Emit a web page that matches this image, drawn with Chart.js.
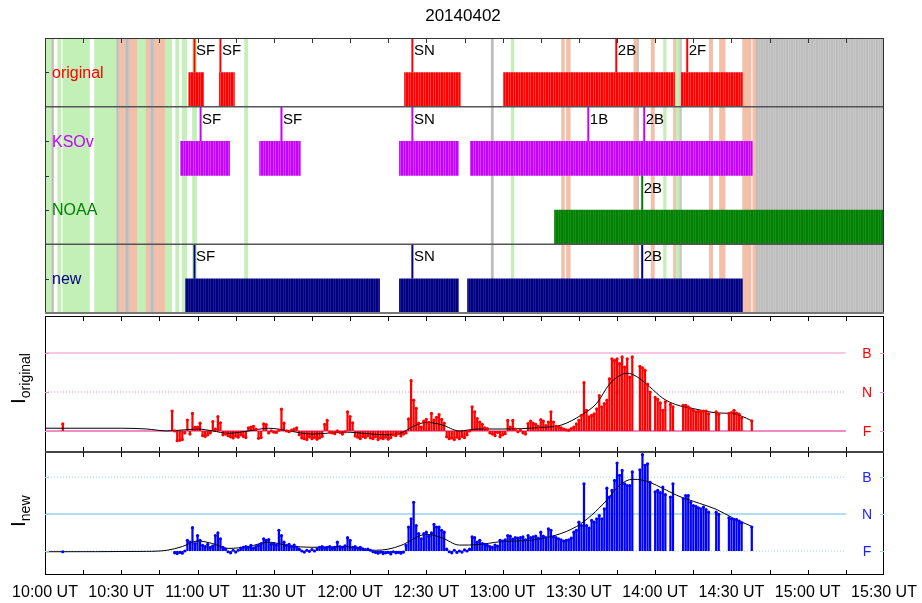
<!DOCTYPE html>
<html>
<head>
<meta charset="utf-8">
<script src="https://cdn.jsdelivr.net/npm/chart.js@4.4.1/dist/chart.umd.min.js"></script>
<style>
  html, body { margin: 0; padding: 0; background: #fff; }
  #wrap { position: relative; width: 922px; height: 603px; }
  #wrap canvas { position: absolute; left: 0; top: 0; }
</style>
</head>
<body>
<div id="wrap">
  <canvas id="top" width="922" height="603"></canvas>
  <canvas id="mid" width="922" height="603"></canvas>
  <canvas id="bot" width="922" height="603"></canvas>
</div>
<script>
// all times are minutes after 10:00 UT
const titleText = '20140402';
const tickMinutes = [0, 30, 60, 90, 120, 150, 180, 210, 240, 270, 300, 330];
const tickLabels = ['10:00 UT', '10:30 UT', '11:00 UT', '11:30 UT', '12:00 UT', '12:30 UT',
  '13:00 UT', '13:30 UT', '14:00 UT', '14:30 UT', '15:00 UT', '15:30 UT'];

const rows = ['original', 'KSOv', 'NOAA', 'new'];
const rowColors = ['#ff0000', '#c800ff', '#008000', '#000080'];

// event intervals [start, end]
const originalSpans = [[56.5, 62.4], [68.6, 74.5], [141.4, 163.4], [180.3, 247.6], [250.3, 274.3]];
const ksovSpans = [[53.3, 72.6], [84.4, 100.5], [139.4, 162.6], [167.3, 278.2]];
const noaaSpans = [[200.4, 330]];
const newSpans = [[55.3, 131.6], [139.4, 162.6], [166.2, 274.3]];

// event markers [time, class]
const originalMarks = [[58.8, 'SF'], [69.0, 'SF'], [144.5, 'SN'], [224.7, '2B'], [252.6, '2F']];
const ksovMarks = [[61.2, 'SF'], [93.0, 'SF'], [144.5, 'SN'], [213.7, '1B'], [235.7, '2B']];
const noaaMarks = [[234.9, '2B']];
const newMarks = [[58.8, 'SF'], [144.5, 'SN'], [234.9, '2B']];

// background quality stripes
const greenStripes = [[0, 2.5], [5, 6.2], [7, 17.5], [19.5, 28], [36.4, 39.5], [47.4, 49.8], [51.4, 52.6],
  [54, 55.7], [58, 59.6], [78.5, 79.7], [183.4, 184.4], [243.3, 244.3], [248.2, 249.5]];
const salmonStripes = [[29.3, 31.3], [33.3, 36.4], [39.5, 41.1], [43.1, 47.4], [203.2, 204.3], [205.1, 206.6],
  [231.6, 232.9], [238.4, 239.7], [247.2, 248.2], [261.3, 262.6], [265.3, 267.5], [274.4, 277.7], [278.4, 279.4]];
const grayStripes = [[2.5, 3.4], [28, 29.3], [31.3, 33.3], [41.1, 43.1], [175.5, 176.4], [232.9, 233.5],
  [249.5, 250.3], [279.4, 330]];

// intensity levels
const levelNames = ['F', 'N', 'B'];
const levelValues = [1, 2, 3];
const levelEnd = 315;

// one value per minute from seriesStart
const seriesStart = 50;
const earlyPoint = 7;
const origEarly = 1.18;
const newEarly = 0.98;
const origValues = [
  1.51, 1.00, 0.75, 0.76, 0.78, 0.95, 1.28, 0.92, 1.45, 1.09,
  1.10, 1.20, 0.88, 0.86, 0.90, 0.95, 1.24, 1.05, 1.37, 1.21,
  0.90, 0.92, 0.88, 0.85, 0.82, 0.87, 0.84, 0.90, 0.86, 0.83,
  1.08, 1.10, 1.12, 1.05, 0.81, 0.83, 1.18, 1.16, 0.95, 1.00,
  0.97, 0.96, 1.02, 1.56, 1.20, 1.00, 0.98, 1.02, 1.05, 1.08,
  0.90, 0.82, 0.80, 0.78, 0.85, 0.80, 0.83, 0.79, 0.82, 0.86,
  1.17, 1.27, 0.97, 0.95, 0.93, 1.00, 0.96, 0.92, 0.98, 1.49,
  1.37, 1.21, 0.87, 0.84, 0.80, 0.86, 0.83, 0.88, 0.82, 0.80,
  0.85, 0.78, 0.82, 0.80, 0.84, 0.79, 0.83, 0.90, 0.88, 0.93,
  0.87, 0.92, 0.95, 1.31, 2.29, 1.79, 1.58, 1.20, 1.10, 1.25,
  1.30, 1.22, 1.45, 1.28, 1.35, 1.42, 1.30, 1.20, 0.85, 0.80,
  0.82, 0.78, 0.84, 0.80, 0.86, 0.83, 0.90, 1.00, 1.62, 1.49,
  1.32, 1.23, 1.17, 1.08, 1.06, 0.95, 0.92, 0.88, 0.96, 0.85,
  0.90, 0.93, 1.27, 1.10, 1.27, 1.05, 0.98, 1.02, 0.95, 0.92,
  1.19, 1.25, 1.20, 1.17, 1.12, 1.29, 1.25, 1.14, 1.23, 1.49,
  1.23, 1.12, 1.10, 1.08, 1.05, 1.03, 1.02, 1.06, 1.10, 1.18,
  1.27, 1.40, 2.24, 1.53, 1.36, 1.40, 1.44, 1.57, 1.91, 1.62,
  1.70, 1.79, 2.34, 2.85, 2.81, 2.85, 2.73, 2.90, 2.64, 2.85,
  2.38, 2.90, null, null, 2.66, 2.62, 2.56, 2.20, 2.00, null,
  1.86, 1.81, 1.72, 1.53, 1.75, null, 1.68, 1.62, null, null,
  null, 1.66, 1.66, 1.62, 1.57, 1.53, 1.49, 1.50, 1.49, 1.51,
  1.51, 1.44, null, null, 1.49, 1.43, null, null, null, 1.45,
  1.47, 1.53, 1.46, 1.43, 1.34, null, null, null, 1.26
];
const newValues = [
  null, 0.95, 0.93, 0.96, 0.94, 1.00, 1.29, 1.24, 1.63, 1.20,
  1.42, 1.29, 1.15, 1.12, 1.18, 1.10, 1.14, 1.42, 1.49, 1.33,
  1.10, 1.05, 0.98, 0.95, 1.02, 0.97, 1.02, 1.08, 1.10, 1.12,
  1.10, 1.15, 1.08, 1.12, 1.15, 1.20, 1.33, 1.29, 1.31, 1.18,
  1.20, 1.16, 1.56, 1.42, 1.24, 1.15, 1.18, 1.12, 1.16, 1.10,
  1.05, 1.00, 0.97, 1.02, 0.99, 1.04, 1.00, 1.06, 1.10, 1.12,
  1.08, 1.10, 1.12, 1.07, 1.10, 1.24, 1.12, 1.10, 1.14, 1.36,
  1.29, 1.10, 1.12, 1.08, 1.10, 1.06, 1.04, 1.05, 1.02, 0.98,
  0.96, 0.94, 0.97, 0.93, 0.95, 0.96, 0.92, 0.98, 0.95, 0.96,
  0.94, 0.97, 1.15, 1.65, 1.87, 2.32, 1.69, 1.47, 1.33, 1.47,
  1.51, 1.40, 1.49, 1.72, 1.65, 1.65, 1.56, 1.51, 1.05, 0.98,
  0.95, 1.02, 0.96, 1.00, 0.97, 1.03, 1.00, 1.05, 1.38, 1.36,
  1.24, 1.29, 1.20, 1.18, 1.15, 1.12, 1.10, 1.16, 1.13, 1.29,
  1.27, 1.30, 1.42, 1.40, 1.32, 1.36, 1.35, 1.36, 1.38, 1.30,
  1.42, 1.36, 1.38, 1.40, 1.34, 1.51, 1.40, 1.36, 1.60, 1.56,
  1.38, 1.36, 1.33, 1.30, 1.27, 1.29, 1.30, 1.35, 1.51, 1.56,
  1.78, 1.69, 2.82, 1.69, 1.62, 1.83, 1.78, 1.87, 1.96, 1.87,
  2.14, 2.70, 2.46, 2.64, 2.91, 3.38, 3.05, 3.18, 2.82, 2.77,
  2.77, 3.14, null, null, 3.20, 3.61, 3.32, 3.36, 2.86, null,
  2.60, 2.64, 2.58, 2.73, 2.53, null, 2.46, 2.82, null, null,
  null, 2.41, 2.50, 2.50, 2.32, 2.23, 2.21, 2.17, 2.14, 2.19,
  2.12, 2.05, null, null, 2.05, 1.99, null, null, null, 1.90,
  1.87, 1.85, 1.85, 1.81, 1.76, null, null, null, 1.65
];

// smoothed curves [time, value]
const origFit = [[0, 1.07], [30, 1.07], [40, 1.05], [48, 1.0], [55, 1.03], [60, 1.05], [66, 1.0], [72, 0.94],
  [80, 1.0], [88, 1.07], [96, 1.0], [105, 0.92], [118, 0.97], [127, 0.93], [134, 0.90], [140, 0.95],
  [145, 1.12], [150, 1.22], [156, 1.16], [163, 1.0], [170, 1.05], [180, 1.05], [195, 1.09], [203, 1.15],
  [211, 1.41], [217, 1.71], [222, 2.2], [226, 2.42], [229, 2.48], [232.6, 2.4], [237.7, 2.14], [243, 1.84],
  [248, 1.68], [256, 1.56], [265, 1.46], [270, 1.45], [274, 1.38], [278, 1.26]];
const newFit = [[0, 0.98], [40, 0.99], [48, 1.02], [54, 1.12], [60, 1.27], [66, 1.2], [72, 1.07], [80, 1.12],
  [88, 1.24], [96, 1.14], [105, 1.1], [118, 1.12], [126, 1.04], [130, 1.02], [135, 1.05], [140, 1.15],
  [150, 1.45], [156, 1.36], [163, 1.16], [170, 1.17], [179, 1.25], [192, 1.3], [201, 1.43], [209, 1.66],
  [215, 1.97], [221, 2.38], [226, 2.78], [231, 2.94], [235, 2.92], [240.5, 2.78], [248.4, 2.51],
  [257.4, 2.29], [264, 2.13], [270.4, 1.9], [278.2, 1.66]];

const fontFamily = '"Liberation Sans", Arial, Helvetica, sans-serif';
Chart.defaults.font.family = fontFamily;
Chart.defaults.animation = false;

const topCtx = document.getElementById('top').getContext('2d');
function hatch(base, light) {
  const c = document.createElement('canvas');
  c.width = 5; c.height = 2;
  const g = c.getContext('2d');
  g.fillStyle = base; g.fillRect(0, 0, 5, 2);
  g.fillStyle = light; g.fillRect(0, 0, 1, 2); g.fillRect(3, 0, 1, 2);
  return topCtx.createPattern(c, 'repeat');
}
const rowFills = [hatch('#ff0000', '#ff3a3a'), hatch('#c800ff', '#d23cff'),
  hatch('#008000', '#1a8c1a'), hatch('#000080', '#1c1c92')];
const grayFill = hatch('#bdbdbd', '#c7c7c7');

function toPoints(values) {
  const pts = [];
  values.forEach((v, i) => { if (v !== null) pts.push({ x: seriesStart + i, y: v }); });
  return pts;
}

function line(ctx, x1, y1, x2, y2) {
  ctx.beginPath(); ctx.moveTo(x1, y1); ctx.lineTo(x2, y2); ctx.stroke();
}

function timeTicks(ctx, x, yy, dir) {
  for (let m = 15; m < 330; m += 15) {
    const xx = Math.round(x.getPixelForValue(m)) + 0.5;
    line(ctx, xx, yy, xx, yy + dir * 5);
  }
}

const timeAxis = { type: 'linear', min: 0, max: 330, offset: false, display: false };

// ---------- event panel ----------
const spanSets = [originalSpans, ksovSpans, noaaSpans, newSpans];
const markSets = [originalMarks, ksovMarks, noaaMarks, newMarks];

const topDatasets = [];
[[greenStripes, '#c3f0b7'], [salmonStripes, '#f3bfa9'], [grayStripes, grayFill]].forEach(([spans, color]) => {
  topDatasets.push({
    type: 'bar', indexAxis: 'y', grouped: false, order: 5,
    data: spans.map(s => ({ x: s, y: 2 })),
    backgroundColor: color, barThickness: 275, borderWidth: 0
  });
});
spanSets.forEach((spans, i) => {
  topDatasets.push({
    type: 'bar', indexAxis: 'y', grouped: false, order: 2,
    data: spans.map(s => ({ x: s, y: 3.25 - i })),
    backgroundColor: rowFills[i], barThickness: 34, borderWidth: 0
  });
});
markSets.forEach((marks, i) => {
  marks.forEach(([t]) => {
    topDatasets.push({
      type: 'line', order: 0,
      data: [{ x: t, y: 3.5 - i }, { x: t, y: 4 - i }],
      borderColor: rowColors[i], borderWidth: 2, pointRadius: 0
    });
  });
});

const topDecor = {
  id: 'topDecor',
  afterDatasetsDraw(chart) {
    const { ctx, chartArea: a, scales: { x, y } } = chart;
    ctx.save();
    ctx.strokeStyle = '#555'; ctx.lineWidth = 1.5;
    [3, 1].forEach(v => { const yy = y.getPixelForValue(v); line(ctx, a.left, yy, a.right, yy); });

    ctx.font = '16px ' + fontFamily;
    ctx.textBaseline = 'alphabetic';
    rows.forEach((r, i) => {
      ctx.fillStyle = rowColors[i];
      ctx.fillText(r, 52, y.getPixelForValue(3.5 - i) + 5.5);
    });
    ctx.font = '15px ' + fontFamily;
    ctx.fillStyle = '#000';
    markSets.forEach((marks, i) => marks.forEach(([t, lab]) => {
      ctx.fillText(lab, x.getPixelForValue(t) + 1.5, y.getPixelForValue(4 - i) + 17);
    }));

    ctx.strokeStyle = '#333'; ctx.lineWidth = 1;
    ctx.strokeRect(a.left + 0.5, a.top + 0.5, a.width - 1, a.height - 1);
    ctx.strokeStyle = '#777'; ctx.lineWidth = 2;
    line(ctx, a.left, a.bottom, a.right, a.bottom);
    ctx.strokeStyle = '#333'; ctx.lineWidth = 1;
    timeTicks(ctx, x, a.top, 1);
    [0.5, 1.5, 2, 2.5, 3.5].forEach(v => {
      const yy = Math.round(y.getPixelForValue(v)) + 0.5;
      line(ctx, a.left, yy, a.left + 4, yy);
    });

    ctx.fillStyle = '#000';
    ctx.font = '17px ' + fontFamily;
    ctx.textAlign = 'center';
    ctx.fillText(titleText, 463, 21);
    ctx.restore();
  }
};

new Chart(topCtx, {
  type: 'bar',
  data: { datasets: topDatasets },
  options: {
    responsive: false,
    layout: { padding: { left: 45, right: 38, top: 38, bottom: 290 } },
    scales: {
      x: timeAxis,
      y: { type: 'linear', min: 0, max: 4, offset: false, display: false }
    },
    plugins: { legend: { display: false }, tooltip: { enabled: false } }
  },
  plugins: [topDecor]
});

// ---------- intensity panels ----------
function intensityChart(id, opts) {
  const pts = toPoints(opts.values);
  const bars = [{ x: earlyPoint, y: [levelValues[0], opts.early] }]
    .concat(pts.map(p => ({ x: p.x, y: [levelValues[0], p.y] })));
  const dots = [{ x: earlyPoint, y: opts.early }].concat(pts);
  const datasets = levelValues.map((lv, i) => ({
    type: 'line', order: 4,
    data: [{ x: 0, y: lv }, { x: levelEnd, y: lv }],
    borderColor: opts.levelColor, borderWidth: opts.levelWidths[i],
    borderDash: opts.levelDash[i], pointRadius: 0
  }));
  datasets.push({
    type: 'bar', order: 3, data: bars, backgroundColor: opts.color,
    barPercentage: 0.88, categoryPercentage: 1, borderWidth: 0
  });
  datasets.push({
    type: 'line', order: 1, data: opts.fit.map(([t, v]) => ({ x: t, y: v })),
    borderColor: '#000', borderWidth: 1, pointRadius: 0, cubicInterpolationMode: 'monotone'
  });
  datasets.push({
    type: 'line', order: 0, data: dots, showLine: false,
    pointRadius: 1.6, pointBorderWidth: 0, pointBackgroundColor: opts.color
  });

  const decor = {
    id: 'decor' + id,
    afterDatasetsDraw(chart) {
      const { ctx, chartArea: a, scales: { x, y } } = chart;
      ctx.save();
      ctx.strokeStyle = '#000'; ctx.lineWidth = 1;
      ctx.strokeRect(a.left + 0.5, a.top + 0.5, a.width - 1, a.height - 1);
      if (opts.bottomAxis) {
        ctx.strokeStyle = '#444'; ctx.lineWidth = 2;
        line(ctx, a.left, a.top, a.right, a.top);
        ctx.lineWidth = 1; ctx.strokeStyle = '#000';
      }
      timeTicks(ctx, x, a.top, 1);
      timeTicks(ctx, x, a.bottom, -1);
      ctx.font = '14px ' + fontFamily;
      ctx.textAlign = 'center';
      ctx.textBaseline = 'middle';
      levelValues.forEach((lv, i) => {
        const yy = Math.round(y.getPixelForValue(lv)) + 0.5;
        ctx.strokeStyle = opts.levelColor;
        line(ctx, a.left, yy, a.left + 4, yy);
        line(ctx, a.right, yy, a.right - 4, yy);
        ctx.fillStyle = opts.textColor;
        ctx.fillText(levelNames[i], 867, yy + 0.5);
      });

      // axis title: I with subscript, rotated
      ctx.fillStyle = '#000';
      ctx.translate(25, opts.titleY);
      ctx.rotate(-Math.PI / 2);
      ctx.textAlign = 'left';
      ctx.textBaseline = 'alphabetic';
      ctx.font = '21px ' + fontFamily;
      ctx.fillText('I', 0, 0);
      const w = ctx.measureText('I').width;
      ctx.font = '14px ' + fontFamily;
      ctx.fillText(opts.sub, w, 5);
      ctx.setTransform(1, 0, 0, 1, 0, 0);

      if (opts.bottomAxis) {
        ctx.font = '16px ' + fontFamily;
        ctx.fillStyle = '#000';
        ctx.textAlign = 'center';
        ctx.textBaseline = 'alphabetic';
        tickMinutes.forEach((m, i) => ctx.fillText(tickLabels[i], x.getPixelForValue(m), 597));
      }
      ctx.restore();
    }
  };

  new Chart(document.getElementById(id), {
    type: 'bar',
    data: { datasets },
    options: {
      responsive: false,
      layout: { padding: opts.padding },
      scales: {
        x: timeAxis,
        y: { type: 'linear', min: opts.yMin, max: opts.yMax, display: false }
      },
      plugins: { legend: { display: false }, tooltip: { enabled: false } }
    },
    plugins: [decor]
  });
}

intensityChart('mid', {
  values: origValues, early: origEarly, fit: origFit, color: '#ff0000', textColor: '#ff0000',
  levelColor: '#f08cc4', levelWidths: [2, 1, 1], levelDash: [[], [1, 2], []],
  yMin: 0.46, yMax: 3.95, padding: { left: 45, right: 38, top: 316, bottom: 151 },
  sub: 'original', titleY: 404, bottomAxis: false
});
intensityChart('bot', {
  values: newValues, early: newEarly, fit: newFit, color: '#0000ff', textColor: '#2020ff',
  levelColor: '#98d2f2', levelWidths: [1, 1.5, 1], levelDash: [[1, 2], [], [1, 2]],
  yMin: 0.35, yMax: 3.68, padding: { left: 45, right: 38, top: 452, bottom: 28 },
  sub: 'new', titleY: 527, bottomAxis: true
});
</script>
</body>
</html>
